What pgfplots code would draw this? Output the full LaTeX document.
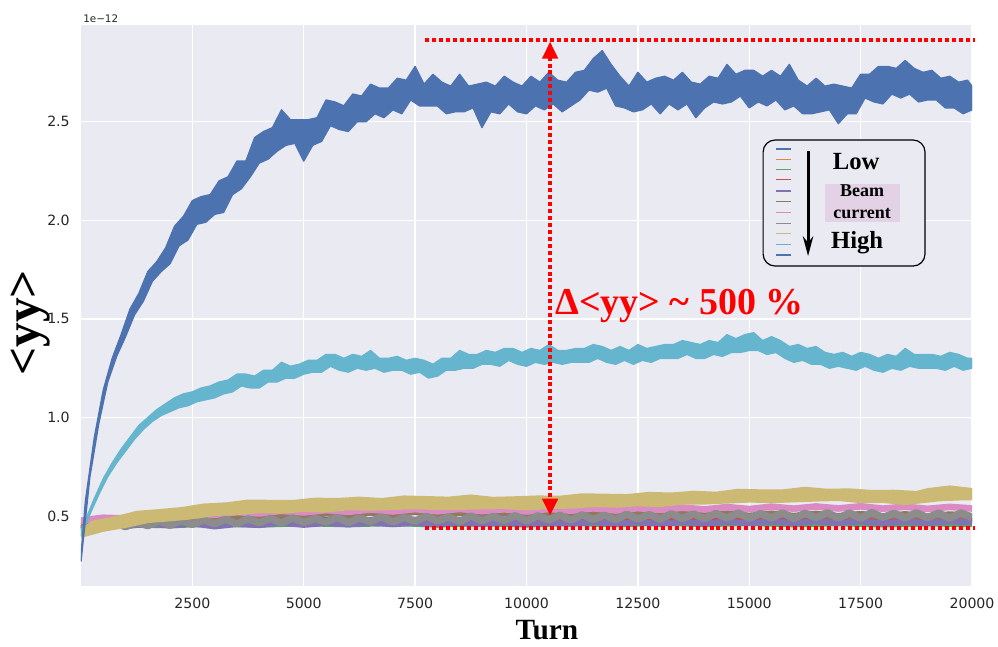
\documentclass[border=0pt]{standalone}
\usepackage{pgfplots}
\pgfplotsset{compat=1.18}
\usepackage{fontspec}
\setmainfont{Liberation Serif}
\newfontfamily\dejavu{DejaVu Sans}
\definecolor{bgc}{HTML}{EAEAF2}
\definecolor{tickc}{HTML}{262626}
\definecolor{cA}{HTML}{4C72B0}
\definecolor{cB}{HTML}{DD8452}
\definecolor{cC}{HTML}{55A868}
\definecolor{cD}{HTML}{C44E52}
\definecolor{cE}{HTML}{8172B3}
\definecolor{cF}{HTML}{937860}
\definecolor{cG}{HTML}{DA8BC3}
\definecolor{cH}{HTML}{8C8C8C}
\definecolor{cI}{HTML}{CCB974}
\definecolor{cJ}{HTML}{64B5CD}
\definecolor{pinkbg}{HTML}{E3D2E5}
\begin{document}
\begin{tikzpicture}
\begin{axis}[
  width=668.25pt, height=420.75pt, scale only axis,
  xmin=0, xmax=20000, ymin=0.146, ymax=2.99,
  scaled x ticks=false, scaled y ticks=false,
  axis background/.style={fill=bgc},
  axis line style={draw=none},
  major tick length=0pt,
  grid=major, grid style={white, line width=1pt},
  xtick={2500,5000,7500,10000,12500,15000,17500,20000},
  xticklabels={2500,5000,7500,10000,12500,15000,17500,20000},
  ytick={0.5,1,1.5,2,2.5},
  yticklabels={0.5,1.0,1.5,2.0,2.5},
  tick label style={font=\dejavu\fontsize{10.6}{12}\selectfont, text=tickc},
  xticklabel style={anchor=north, inner sep=0pt, yshift=-9pt},
  yticklabel style={anchor=east, inner sep=0pt, xshift=-8.25pt},
  clip mode=individual,
  xlabel={\fontsize{22}{24}\selectfont\bfseries Turn},
  ylabel={\fontsize{37}{40}\selectfont\bfseries <yy>},
  xlabel style={at={(axis description cs:0.523,0)}, anchor=center, yshift=-33pt},
  ylabel style={at={(axis description cs:-0.0572,0.469)}, anchor=center},
  every axis plot/.append style={no markers, line join=round},
]
% series 1 (blue, lowest current)
\addplot[cA, line width=4pt] coordinates {(0,0.46)(1000,0.48)(2000,0.476)(3000,0.485)(4000,0.478)(5000,0.486)(6000,0.48)(7000,0.487)(8000,0.481)(9000,0.487)(10000,0.48)(11000,0.486)(12000,0.481)(13000,0.487)(14000,0.48)(15000,0.486)(16000,0.48)(17000,0.485)(18000,0.479)(19000,0.484)(20000,0.48)};
% series 2 orange
\addplot[cB, line width=4pt] coordinates {(0,0.45)(1000,0.47)(2000,0.465)(3000,0.475)(4000,0.47)(5000,0.478)(6000,0.472)(7000,0.479)(8000,0.473)(9000,0.48)(10000,0.474)(11000,0.48)(12000,0.475)(13000,0.481)(14000,0.476)(15000,0.482)(16000,0.476)(17000,0.481)(18000,0.475)(19000,0.48)(20000,0.476)};
% series 3 green
\addplot[cC, line width=4pt] coordinates {(0,0.44)(1000,0.456)(2000,0.452)(3000,0.46)(4000,0.455)(5000,0.462)(6000,0.457)(7000,0.463)(8000,0.456)(9000,0.462)(10000,0.456)(11000,0.463)(12000,0.457)(13000,0.464)(14000,0.458)(15000,0.463)(16000,0.457)(17000,0.462)(18000,0.456)(19000,0.461)(20000,0.458)};
% series 4 red
\addplot[cD, line width=4.5pt] coordinates {(0,0.440)(500,0.462)(1000,0.455)(1500,0.468)(2000,0.458)(2500,0.470)(3000,0.460)(3500,0.471)(4000,0.462)(4500,0.473)(5000,0.464)(5500,0.474)(6000,0.465)(6500,0.475)(7000,0.466)(7500,0.476)(8000,0.467)(8500,0.477)(9000,0.468)(9500,0.478)(10000,0.469)(10500,0.478)(11000,0.470)(11500,0.479)(12000,0.470)(12500,0.480)(13000,0.471)(13500,0.481)(14000,0.472)(14500,0.482)(15000,0.473)(15500,0.483)(16000,0.474)(16500,0.484)(17000,0.475)(17500,0.485)(18000,0.476)(18500,0.484)(19000,0.475)(19500,0.485)(20000,0.478)};
% series 5 purple
\addplot[cE, line width=4.5pt] coordinates {(0,0.430)(500,0.458)(1000,0.449)(1500,0.462)(2000,0.452)(2500,0.463)(3000,0.448)(3500,0.460)(4000,0.455)(4500,0.466)(5000,0.456)(5500,0.465)(6000,0.458)(6500,0.467)(7000,0.459)(7500,0.466)(8000,0.457)(8500,0.468)(9000,0.460)(9500,0.469)(10000,0.458)(10500,0.467)(11000,0.461)(11500,0.470)(12000,0.462)(12500,0.469)(13000,0.461)(13500,0.470)(14000,0.463)(14500,0.472)(15000,0.464)(15500,0.473)(16000,0.465)(16500,0.474)(17000,0.466)(17500,0.473)(18000,0.464)(18500,0.472)(19000,0.466)(19500,0.474)(20000,0.468)};
% series 6 brown
\addplot[cF, line width=5pt] coordinates {(0,0.440)(500,0.458)(1000,0.460)(1500,0.478)(2000,0.476)(2500,0.492)(3000,0.487)(3500,0.502)(4000,0.496)(4500,0.509)(5000,0.502)(5500,0.515)(6000,0.507)(6500,0.519)(7000,0.511)(7500,0.522)(8000,0.510)(8500,0.519)(9000,0.506)(9500,0.516)(10000,0.505)(10500,0.517)(11000,0.507)(11500,0.516)(12000,0.505)(12500,0.515)(13000,0.503)(13500,0.514)(14000,0.502)(14500,0.513)(15000,0.501)(15500,0.512)(16000,0.500)(16500,0.511)(17000,0.499)(17500,0.510)(18000,0.498)(18500,0.509)(19000,0.497)(19500,0.508)(20000,0.500)};
% series 7 pink
\addplot[cG, line width=5pt] coordinates {(0,0.478)(500,0.492)(1000,0.488)(1500,0.503)(2000,0.498)(2500,0.514)(3000,0.507)(3500,0.521)(4000,0.514)(4500,0.527)(5000,0.519)(5500,0.531)(6000,0.522)(6500,0.534)(7000,0.524)(7500,0.536)(8000,0.525)(8500,0.537)(9000,0.526)(9500,0.535)(10000,0.524)(10500,0.537)(11000,0.528)(11500,0.540)(12000,0.529)(12500,0.541)(13000,0.532)(13500,0.543)(14000,0.534)(14500,0.546)(15000,0.536)(15500,0.548)(16000,0.538)(16500,0.549)(17000,0.539)(17500,0.550)(18000,0.538)(18500,0.548)(19000,0.537)(19500,0.547)(20000,0.539)};
% series 8 gray
\addplot[cH, line width=5.5pt] coordinates {(0,0.430)(250,0.452)(500,0.441)(750,0.463)(1000,0.447)(1250,0.468)(1500,0.452)(1750,0.475)(2000,0.455)(2250,0.478)(2500,0.458)(2750,0.481)(3000,0.462)(3250,0.484)(3500,0.461)(3750,0.487)(4000,0.466)(4250,0.489)(4500,0.465)(4750,0.492)(5000,0.468)(5250,0.488)(5500,0.470)(5750,0.494)(6000,0.468)(6250,0.491)(6500,0.472)(6750,0.497)(7000,0.470)(7250,0.494)(7500,0.474)(7750,0.500)(8000,0.476)(8250,0.496)(8500,0.473)(8750,0.501)(9000,0.477)(9250,0.499)(9500,0.478)(9750,0.503)(10000,0.476)(10250,0.502)(10500,0.481)(10750,0.505)(11000,0.480)(11250,0.507)(11500,0.483)(11750,0.505)(12000,0.482)(12250,0.510)(12500,0.486)(12750,0.508)(13000,0.484)(13250,0.512)(13500,0.488)(13750,0.511)(14000,0.487)(14250,0.514)(14500,0.490)(14750,0.516)(15000,0.489)(15250,0.513)(15500,0.491)(15750,0.517)(16000,0.488)(16250,0.515)(16500,0.492)(16750,0.518)(17000,0.490)(17250,0.516)(17500,0.489)(17750,0.519)(18000,0.493)(18250,0.515)(18500,0.490)(18750,0.518)(19000,0.492)(19250,0.516)(19500,0.489)(19750,0.517)(20000,0.494)};
% series 9 olive: noisy band, upper envelope then lower envelope
\addplot[cI, fill=cI, line width=1.5pt] coordinates {(0,0.43)(250,0.472)(750,0.494)(1250,0.522)(1750,0.531)(2250,0.541)(2750,0.559)(3250,0.565)(3750,0.579)(4250,0.578)(4750,0.577)(5250,0.589)(5750,0.587)(6250,0.594)(6750,0.587)(7250,0.600)(7750,0.597)(8250,0.594)(8750,0.605)(9250,0.593)(9750,0.596)(10250,0.600)(10750,0.599)(11250,0.611)(11750,0.609)(12250,0.607)(12750,0.618)(13250,0.615)(13750,0.624)(14250,0.619)(14750,0.634)(15250,0.631)(15750,0.631)(16250,0.644)(16750,0.634)(17250,0.636)(17750,0.628)(18250,0.629)(18750,0.623)(19000,0.637)(19500,0.651)(20000,0.638)
(20000,0.585)(19750,0.585)(19250,0.580)(18500,0.561)(18000,0.572)(17500,0.571)(17000,0.582)(16500,0.579)(16000,0.575)(15500,0.571)(15000,0.574)(14500,0.569)(14000,0.564)(13500,0.564)(13000,0.551)(12500,0.555)(12000,0.548)(11500,0.551)(11000,0.543)(10500,0.541)(10000,0.534)(9500,0.541)(9000,0.539)(8500,0.537)(8000,0.536)(7500,0.540)(7000,0.536)(6500,0.533)(6000,0.535)(5500,0.523)(5000,0.526)(4500,0.518)(4000,0.520)(3500,0.510)(3000,0.506)(2500,0.489)(2000,0.479)(1500,0.470)(1000,0.445)(500,0.426)(0,0.395)};
% series 10 cyan: noisy band, upper envelope then lower envelope
\addplot[cJ, fill=cJ, line width=1pt] coordinates {(0,0.42)(100,0.48)(300,0.59)(500,0.69)(700,0.77)(900,0.84)(1100,0.90)(1300,0.96)(1500,1.00)(1700,1.04)(1900,1.07)(2100,1.10)(2300,1.12)(2500,1.13)(2700,1.15)(2900,1.16)(3100,1.18)(3300,1.19)(3500,1.22)(3700,1.22)(3900,1.21)(4100,1.24)(4300,1.24)(4500,1.28)(4700,1.26)(4900,1.27)(5100,1.29)(5300,1.29)(5500,1.32)(5700,1.32)(5900,1.30)(6100,1.32)(6300,1.31)(6500,1.34)(6700,1.30)(6900,1.30)(7100,1.31)(7300,1.29)(7500,1.30)(7700,1.29)(7900,1.27)(8100,1.30)(8300,1.30)(8500,1.34)(8700,1.32)(8900,1.32)(9100,1.34)(9300,1.33)(9500,1.35)(9700,1.35)(9900,1.33)(10100,1.35)(10300,1.34)(10500,1.37)(10700,1.34)(10900,1.34)(11100,1.35)(11300,1.35)(11500,1.37)(11700,1.36)(11900,1.34)(12100,1.36)(12300,1.34)(12500,1.37)(12700,1.35)(12900,1.36)(13100,1.37)(13300,1.37)(13500,1.39)(13700,1.38)(13900,1.37)(14100,1.39)(14300,1.38)(14500,1.42)(14700,1.40)(14900,1.42)(15100,1.43)(15300,1.39)(15500,1.41)(15700,1.39)(15900,1.36)(16100,1.37)(16300,1.35)(16500,1.36)(16700,1.33)(16900,1.32)(17100,1.33)(17300,1.31)(17500,1.33)(17700,1.32)(17900,1.30)(18100,1.32)(18300,1.31)(18500,1.35)(18700,1.32)(18900,1.32)(19100,1.32)(19300,1.31)(19500,1.33)(19700,1.32)(19900,1.30)(20000,1.30)
(20000,1.25)(19800,1.24)(19600,1.26)(19400,1.24)(19200,1.25)(19000,1.25)(18800,1.25)(18600,1.26)(18400,1.24)(18200,1.25)(18000,1.23)(17800,1.24)(17600,1.26)(17400,1.24)(17200,1.25)(17000,1.26)(16800,1.25)(16600,1.27)(16400,1.27)(16200,1.29)(16000,1.28)(15800,1.30)(15600,1.33)(15400,1.32)(15200,1.34)(15000,1.34)(14800,1.33)(14600,1.33)(14400,1.31)(14200,1.32)(14000,1.30)(13800,1.30)(13600,1.32)(13400,1.30)(13200,1.30)(13000,1.30)(12800,1.28)(12600,1.29)(12400,1.27)(12200,1.29)(12000,1.27)(11800,1.28)(11600,1.30)(11400,1.28)(11200,1.28)(11000,1.28)(10800,1.27)(10600,1.28)(10400,1.27)(10200,1.28)(10000,1.26)(9800,1.27)(9600,1.29)(9400,1.26)(9200,1.27)(9000,1.27)(8800,1.25)(8600,1.25)(8400,1.24)(8200,1.24)(8000,1.21)(7800,1.20)(7600,1.23)(7400,1.22)(7200,1.24)(7000,1.24)(6800,1.23)(6600,1.25)(6400,1.24)(6200,1.25)(6000,1.23)(5800,1.24)(5600,1.26)(5400,1.23)(5200,1.23)(5000,1.22)(4800,1.20)(4600,1.20)(4400,1.18)(4200,1.18)(4000,1.15)(3800,1.15)(3600,1.16)(3400,1.13)(3200,1.12)(3000,1.10)(2800,1.09)(2600,1.08)(2400,1.06)(2200,1.05)(2000,1.03)(1800,1.01)(1600,0.98)(1400,0.94)(1200,0.89)(1000,0.83)(800,0.77)(600,0.70)(400,0.61)(200,0.51)(0,0.40)};
% series 11 blue (highest current): noisy band, upper envelope then lower envelope
\addplot[cA, fill=cA, line width=1pt] coordinates {(0,0.30)(100,0.58)(300,0.90)(500,1.14)(700,1.30)(900,1.42)(1100,1.55)(1300,1.63)(1500,1.74)(1700,1.79)(1900,1.86)(2100,1.97)(2300,2.02)(2500,2.10)(2700,2.12)(2900,2.13)(3100,2.20)(3300,2.22)(3500,2.30)(3700,2.30)(3900,2.42)(4100,2.45)(4300,2.47)(4500,2.56)(4700,2.51)(4900,2.51)(5100,2.51)(5300,2.52)(5500,2.61)(5700,2.60)(5900,2.58)(6100,2.64)(6300,2.63)(6500,2.69)(6700,2.67)(6900,2.67)(7100,2.72)(7300,2.71)(7500,2.78)(7700,2.69)(7900,2.74)(8100,2.70)(8300,2.68)(8500,2.74)(8700,2.68)(8900,2.69)(9100,2.70)(9300,2.68)(9500,2.73)(9700,2.70)(9900,2.68)(10100,2.73)(10300,2.70)(10500,2.75)(10700,2.71)(10900,2.70)(11100,2.75)(11300,2.76)(11500,2.82)(11700,2.86)(11900,2.79)(12100,2.73)(12300,2.68)(12500,2.75)(12700,2.70)(12900,2.72)(13100,2.73)(13300,2.71)(13500,2.75)(13700,2.70)(13900,2.69)(14100,2.73)(14300,2.72)(14500,2.79)(14700,2.74)(14900,2.76)(15100,2.76)(15300,2.73)(15500,2.76)(15700,2.73)(15900,2.79)(16100,2.71)(16300,2.68)(16500,2.72)(16700,2.68)(16900,2.69)(17100,2.68)(17300,2.67)(17500,2.74)(17700,2.74)(17900,2.78)(18100,2.78)(18300,2.77)(18500,2.81)(18700,2.77)(18900,2.75)(19100,2.76)(19300,2.72)(19500,2.73)(19700,2.70)(19900,2.71)(20000,2.68)
(20000,2.56)(19800,2.54)(19600,2.57)(19400,2.57)(19200,2.61)(19000,2.61)(18800,2.60)(18600,2.64)(18400,2.62)(18200,2.64)(18000,2.59)(17800,2.60)(17600,2.62)(17400,2.54)(17200,2.54)(17000,2.49)(16800,2.56)(16600,2.55)(16400,2.54)(16200,2.54)(16000,2.58)(15800,2.56)(15600,2.61)(15400,2.58)(15200,2.60)(15000,2.57)(14800,2.63)(14600,2.60)(14400,2.59)(14200,2.60)(14000,2.57)(13800,2.52)(13600,2.59)(13400,2.56)(13200,2.59)(13000,2.54)(12800,2.59)(12600,2.56)(12400,2.55)(12200,2.57)(12000,2.58)(11800,2.67)(11600,2.65)(11400,2.66)(11200,2.61)(11000,2.58)(10800,2.55)(10600,2.59)(10400,2.56)(10200,2.58)(10000,2.54)(9800,2.55)(9600,2.59)(9400,2.54)(9200,2.55)(9000,2.47)(8800,2.57)(8600,2.55)(8400,2.55)(8200,2.54)(8000,2.58)(7800,2.58)(7600,2.58)(7400,2.61)(7200,2.54)(7000,2.56)(6800,2.52)(6600,2.54)(6400,2.50)(6200,2.50)(6000,2.45)(5800,2.46)(5600,2.48)(5400,2.40)(5200,2.38)(5000,2.30)(4800,2.39)(4600,2.38)(4400,2.35)(4200,2.31)(4000,2.29)(3800,2.22)(3600,2.16)(3400,2.13)(3200,2.04)(3000,2.03)(2800,1.99)(2600,1.98)(2400,1.90)(2200,1.87)(2000,1.78)(1800,1.74)(1600,1.69)(1400,1.59)(1200,1.52)(1000,1.41)(800,1.31)(600,1.18)(400,0.97)(200,0.70)(0,0.27)};
% offset text
\node[anchor=south west, inner sep=0pt, xshift=1.5pt, yshift=1.5pt, font=\dejavu\fontsize{7.8}{9}\selectfont, text=tickc] at (rel axis cs:0,1) {1e−12};
% red annotations
\draw[red, line width=3pt, dash pattern=on 3pt off 2.2pt] (axis cs:7727,2.914) -- (axis cs:20067,2.914);
\draw[red, line width=3pt, dash pattern=on 3pt off 2.2pt] (axis cs:7727,0.440) -- (axis cs:20067,0.440);
\draw[red, line width=3pt, dash pattern=on 3pt off 2.2pt] (axis cs:10530,0.56) -- (axis cs:10530,2.85);
\fill[red] (axis cs:10530,2.904) -- ([xshift=-6.2pt,yshift=-12.5pt]axis cs:10530,2.904) -- ([xshift=6.2pt,yshift=-12.5pt]axis cs:10530,2.904) -- cycle;
\fill[red] (axis cs:10530,0.505) -- ([xshift=-6.2pt,yshift=12.5pt]axis cs:10530,0.505) -- ([xshift=6.2pt,yshift=12.5pt]axis cs:10530,0.505) -- cycle;
\node[anchor=base west, inner sep=0pt, text=red, font=\fontsize{28.5}{30}\selectfont\bfseries] at (axis cs:10640,1.52) {Δ<yy> \textasciitilde{} 500 \%};
% legend box
\draw[black, line width=0.9pt, rounded corners=9pt, fill=bgc] (axis cs:15311,2.407) rectangle (axis cs:18945,1.768);
\fill[pinkbg] (axis cs:16700,2.184) rectangle (axis cs:18383,1.991);
\draw[cA, line width=1pt] (axis cs:15602,2.362) -- (axis cs:15939,2.362);
\draw[cB, line width=1pt] (axis cs:15602,2.309) -- (axis cs:15939,2.309);
\draw[cC, line width=1pt] (axis cs:15602,2.259) -- (axis cs:15939,2.259);
\draw[cD, line width=1pt] (axis cs:15602,2.206) -- (axis cs:15939,2.206);
\draw[cE, line width=1pt] (axis cs:15602,2.149) -- (axis cs:15939,2.149);
\draw[cF, line width=1pt] (axis cs:15602,2.094) -- (axis cs:15939,2.094);
\draw[cG, line width=1pt] (axis cs:15602,2.039) -- (axis cs:15939,2.039);
\draw[cH, line width=1pt] (axis cs:15602,1.985) -- (axis cs:15939,1.985);
\draw[cI, line width=1pt] (axis cs:15602,1.932) -- (axis cs:15939,1.932);
\draw[cJ, line width=1pt] (axis cs:15602,1.878) -- (axis cs:15939,1.878);
\draw[cA, line width=1pt] (axis cs:15602,1.824) -- (axis cs:15939,1.824);
\draw[black, line width=2.2pt] (axis cs:16320,2.351) -- (axis cs:16320,1.88);
\fill[black] (axis cs:16320,1.819) -- ([xshift=-4pt,yshift=15pt]axis cs:16320,1.819) -- ([yshift=10pt]axis cs:16320,1.819) -- ([xshift=4pt,yshift=15pt]axis cs:16320,1.819) -- cycle;
\node[inner sep=0pt, font=\fontsize{18.5}{20}\selectfont\bfseries] at (axis cs:17399,2.296) {Low};
\node[inner sep=0pt, align=center, font=\fontsize{13.5}{16.5}\selectfont\bfseries] at (axis cs:17534,2.093) {Beam\\current};
\node[inner sep=0pt, font=\fontsize{18.5}{20}\selectfont\bfseries] at (axis cs:17422,1.887) {High};
\end{axis}
\pgfresetboundingbox
\path[use as bounding box] ([xshift=-60.75pt,yshift=-45pt]current axis.south west) rectangle ([xshift=19.5pt,yshift=18.75pt]current axis.north east);
\end{tikzpicture}
\end{document}
